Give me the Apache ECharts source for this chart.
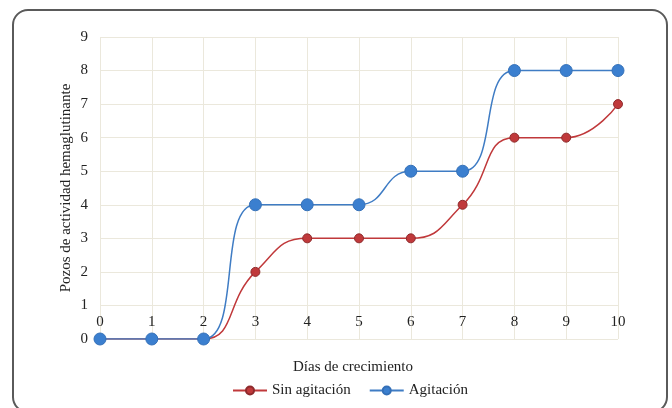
<!DOCTYPE html>
<html><head><meta charset="utf-8">
<script src="https://cdn.jsdelivr.net/npm/echarts@6/dist/echarts.min.js"></script>
<style>
html,body{margin:0;padding:0;background:#fff;}
#frame{position:absolute;left:12px;top:9px;width:652px;height:400px;border:2px solid #5a5a5a;border-radius:16px;}
#c{position:absolute;left:0;top:0;width:672px;height:408px;}
</style></head>
<body><div id="frame"></div><div id="c"></div>
<script>
const days = [0,1,2,3,4,5,6,7,8,9,10];
const sinAgitacion = [0,0,0,2,3,3,3,4,6,6,7];
const agitacion = [0,0,0,4,4,4,5,5,8,8,8];
const yTicks = [0,1,2,3,4,5,6,7,8,9];
const chart = echarts.init(document.getElementById('c'));
const font = '"Liberation Serif","Times New Roman",serif';
chart.setOption({
  animation:false,
  textStyle:{fontFamily:font},
  grid:{left:100,right:54,top:37,bottom:69},
  legend:{bottom:5,left:227,itemWidth:34,itemHeight:10,itemGap:18,
    textStyle:{fontFamily:font,fontSize:15,color:'#222'},
    data:['Sin agitación','Agitación']},
  xAxis:{type:'value',min:0,max:10,interval:1,
    name:'Días de crecimiento',nameLocation:'middle',nameGap:21,nameMoveOverlap:false,
    nameTextStyle:{fontFamily:font,fontSize:15,color:'#222',padding:[0,12,0,0]},
    axisLine:{show:false},axisTick:{show:false},
    axisLabel:{margin:-24,fontFamily:font,fontSize:15,color:'#222'},
    splitLine:{show:true,lineStyle:{color:'#ebe8dc',width:1}}},
  yAxis:{type:'value',min:0,max:9,interval:1,
    name:'Pozos de actividad hemaglutinante',nameLocation:'middle',nameGap:26,nameMoveOverlap:false,
    nameTextStyle:{fontFamily:font,fontSize:15,color:'#222'},
    axisLine:{show:false},axisTick:{show:false},
    axisLabel:{margin:12,fontFamily:font,fontSize:15,color:'#222',
      formatter:v=>yTicks.includes(v)?String(v):''},
    splitLine:{show:true,lineStyle:{color:'#ebe8dc',width:1}}},
  series:[
    {name:'Sin agitación',type:'line',smooth:0.5,data:days.map((d,i)=>[d,sinAgitacion[i]]),
      symbol:'circle',symbolSize:9,
      lineStyle:{color:'#c0393b',width:1.5},
      itemStyle:{color:'#c0393b',borderColor:'#8e2a2c',borderWidth:1}},
    {name:'Agitación',type:'line',smooth:0.5,data:days.map((d,i)=>[d,agitacion[i]]),
      symbol:'circle',symbolSize:12,
      lineStyle:{color:'#3f7cc4',width:1.5},
      itemStyle:{color:'#3b7fcf',borderColor:'#3470b8',borderWidth:1}}
  ]
});
</script></body></html>
